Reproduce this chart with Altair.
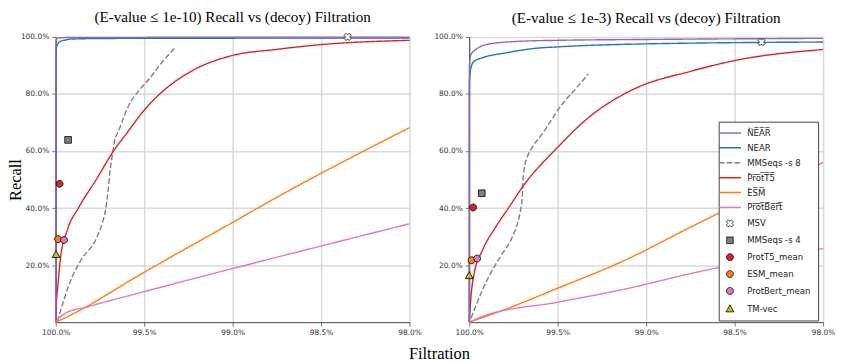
import json
import altair as alt
import pandas as pd

# ---------------- names ----------------
ARW = "\u20d6"   # combining left arrow above
OVL = "\u0305"   # combining overline


def rev(s):
    return s[0] + ARW + "".join(c + OVL for c in s[1:])


NEAR_R = rev("NEAR")
T5_R = rev("ProtT5")
ESM_R = rev("ESM")
BERT_R = rev("ProtBert")

LINE_NAMES = [NEAR_R, "NEAR", "MMSeqs -s 8", T5_R, ESM_R, BERT_R]
POINT_NAMES = ["MSV", "MMSeqs -s 4", "ProtT5_mean", "ESM_mean", "ProtBert_mean", "TM-vec"]
ALL_NAMES = LINE_NAMES + POINT_NAMES

TITLES = ["(E-value \u2264 1e-10) Recall vs (decoy) Filtration",
          "(E-value \u2264 1e-3) Recall vs (decoy) Filtration"]

X_TICKS = [100.0, 99.5, 99.0, 98.5, 98.0]
Y_TICKS = [20, 40, 60, 80, 100]

# ---------------- left panel (E-value <= 1e-10) ----------------
L_NEARR_X = [100.0, 99.999, 99.996, 99.99, 99.97, 99.9, 99.5, 99.0, 98.0]
L_NEARR_Y = [0.0, 97.5, 99.2, 99.5, 99.7, 99.8, 99.85, 99.9, 99.9]
L_NEAR_X = [100.0, 99.999, 99.995, 99.99, 99.975, 99.945, 99.92, 99.8, 99.5, 99.0, 98.0]
L_NEAR_Y = [0.0, 93.0, 96.3, 97.3, 98.4, 98.9, 99.2, 99.4, 99.5, 99.55, 99.6]
L_MM8_X = [99.991, 99.907, 99.86, 99.766, 99.738, 99.719, 99.704, 99.695, 99.682,
           99.667, 99.644, 99.616, 99.584, 99.532, 99.466, 99.41, 99.326]
L_MM8_Y = [0.2, 15.9, 21.5, 29.9, 34.5, 39.2, 46.1, 52.0, 57.8,
           63.6, 67.1, 71.7, 76.4, 81.0, 85.7, 90.3, 96.2]
L_T5_X = [100.0, 99.998, 99.99, 99.972, 99.935, 99.869, 99.775, 99.672, 99.588,
          99.5, 99.41, 99.25, 99.0, 98.755, 98.5, 98.0]
L_T5_Y = [0.0, 5.0, 11.3, 22.9, 32.2, 40.3, 49.6, 60.1, 67.1,
          74.3, 80.1, 87.4, 93.5, 95.6, 97.3, 98.8]
L_ESM_X = [100.0, 99.944, 99.5, 99.0, 98.764, 98.0]
L_ESM_Y = [0.0, 1.6, 17.5, 35.0, 43.3, 68.2]
L_BERT_X = [100.0, 99.953, 99.813, 99.5, 99.0, 98.5, 98.0]
L_BERT_Y = [0.0, 2.9, 5.5, 10.7, 18.8, 26.7, 34.5]
L_PTS_X = [98.35, 99.93, 99.978, 99.987, 99.953, 99.998]
L_PTS_Y = [100.0, 63.9, 48.5, 29.1, 28.8, 23.7]

# ---------------- right panel (E-value <= 1e-3) ----------------
R_NEARR_X = [100.0, 99.999, 99.99, 99.962, 99.888, 99.7, 99.5, 99.0, 98.0]
R_NEARR_Y = [0.0, 90.0, 93.8, 95.6, 97.5, 98.5, 98.8, 99.1, 99.5]
R_NEAR_X = [100.0, 99.999, 99.99, 99.972, 99.925, 99.794, 99.625, 99.5, 99.12, 98.0]
R_NEAR_Y = [0.0, 84.0, 89.2, 91.5, 92.7, 94.4, 96.0, 96.5, 97.4, 98.2]
R_MM8_X = [99.990, 99.925, 99.869, 99.812, 99.756, 99.728, 99.710, 99.700, 99.697,
           99.691, 99.672, 99.644, 99.588, 99.551, 99.475, 99.401, 99.326]
R_MM8_Y = [1.4, 11.3, 18.3, 24.1, 29.9, 34.5, 39.2, 43.8, 48.5,
           53.1, 57.8, 61.3, 65.9, 69.4, 76.4, 81.6, 87.1]
R_T5_X = [100.0, 99.99, 99.972, 99.925, 99.85, 99.775, 99.7, 99.5, 99.326,
          99.073, 98.745, 98.5, 98.0]
R_T5_Y = [0.0, 9.0, 17.1, 25.2, 33.4, 40.3, 47.3, 61.3, 71.7,
          81.6, 88.0, 91.7, 95.6]
R_ESM_X = [100.0, 99.83, 99.5, 99.12, 98.73, 98.0]
R_ESM_Y = [0.0, 3.7, 11.9, 21.7, 33.9, 56.0]
R_BERT_X = [100.0, 99.925, 99.5, 99.12, 98.73, 98.0]
R_BERT_Y = [0.0, 2.0, 7.0, 11.6, 17.3, 25.8]
R_PTS_X = [98.348, 99.929, 99.978, 99.987, 99.955, 100.0]
R_PTS_Y = [98.2, 45.2, 40.2, 21.7, 22.3, 16.3]

# ---------------- styles ----------------
LINE_COLORS = ["#9467bd", "#1f77b4", "#7f7f7f", "#d62728", "#ff7f0e", "#e377c2"]
POINT_COLORS = ["#ffffff", "#7f7f7f", "#d62728", "#ff7f0e", "#e377c2", "#bcbd22"]
EDGE = "#000000"
LEGEND_STROKES = LINE_COLORS + [EDGE] * 6
DASHES = [[1, 0], [1, 0], [5.5, 2.4], [1, 0], [1, 0], [1, 0]]

P_LINE = "M-1,0L1,0"
WIDE = "M-1,0M1,0"  # invisible extent so every legend symbol has the same width
P_X = (WIDE + "M0.325,-0.141L0.184,0L0.325,0.141L0.141,0.325L0,0.184L-0.141,0.325"
       "L-0.325,0.141L-0.184,0L-0.325,-0.141L-0.141,-0.325L0,-0.184L0.141,-0.325Z")
P_SQ = WIDE + "M-0.3,-0.3L0.3,-0.3L0.3,0.3L-0.3,0.3Z"
P_CI = WIDE + "M-0.31,0A0.31,0.31,0,1,1,0.31,0A0.31,0.31,0,1,1,-0.31,0Z"
P_TR = WIDE + "M0,-0.36L0.36,0.27L-0.36,0.27Z"
POINT_SHAPES = [P_X, P_SQ, P_CI, P_CI, P_CI, P_TR]
SYM_SIZE = 497.3


def line_frame(series):
    rows = []
    for name, xs, ys in series:
        for i, (x, y) in enumerate(zip(xs, ys)):
            rows.append({"series": name, "filt": x, "recall": y, "ord": i})
    return pd.DataFrame(rows)


def point_frame(xs, ys):
    return pd.DataFrame({"series": POINT_NAMES, "filt": xs, "recall": ys})


left_lines = line_frame([
    ("NEAR", L_NEAR_X, L_NEAR_Y), ("MMSeqs -s 8", L_MM8_X, L_MM8_Y),
    (T5_R, L_T5_X, L_T5_Y), (ESM_R, L_ESM_X, L_ESM_Y), (BERT_R, L_BERT_X, L_BERT_Y),
    (NEAR_R, L_NEARR_X, L_NEARR_Y)])
right_lines = line_frame([
    ("NEAR", R_NEAR_X, R_NEAR_Y), ("MMSeqs -s 8", R_MM8_X, R_MM8_Y),
    (T5_R, R_T5_X, R_T5_Y), (ESM_R, R_ESM_X, R_ESM_Y), (BERT_R, R_BERT_X, R_BERT_Y),
    (NEAR_R, R_NEARR_X, R_NEARR_Y)])
left_pts = point_frame(L_PTS_X, L_PTS_Y)
right_pts = point_frame(R_PTS_X, R_PTS_Y)

SERIF = "Liberation Serif"
SANS = "DejaVu Sans"

xscale = alt.Scale(domain=[100, 98], nice=False, zero=False)
yscale = alt.Scale(domain=[0, 100], nice=False, zero=False)

axis_common = dict(
    labelFont=SANS, labelFontSize=7.5, labelColor="#333333",
    tickSize=4, tickColor="#555555", tickWidth=0.8,
    domainColor="#333333", domainWidth=0.9,
    grid=True, gridColor="#d9d9d9", gridWidth=1.5,
    labelFlush=False, labelOverlap=False,
    titleFont=SERIF, titleFontSize=16.5, titleFontWeight="normal", titleColor="#000000",
)


def x_axis(with_title):
    kw = dict(axis_common, values=X_TICKS, labelPadding=2,
              labelExpr="format(datum.value, '.1f') + '%'")
    if with_title:
        kw.update(title="Filtration", titleX=385.5, titleY=36.2,
                  titleAlign="center", titleBaseline="alphabetic", titleAngle=0)
    else:
        kw.update(title=None)
    return alt.Axis(**kw)


def y_axis(with_title):
    kw = dict(axis_common, values=Y_TICKS, labelPadding=3,
              labelExpr="format(datum.value, '.1f') + '%'")
    if with_title:
        kw.update(title="Recall", titleX=-35, titleY=143.5, titleAngle=270,
                  titleAlign="center", titleBaseline="alphabetic")
    else:
        kw.update(title=None)
    return alt.Axis(**kw)


idx = "indexof(%s, datum.value)" % json.dumps(ALL_NAMES, ensure_ascii=False)
sym_shapes = [P_LINE] * 6 + POINT_SHAPES
sym_fill = ["transparent"] * 6 + POINT_COLORS

legend = alt.Legend(
    title=None, orient="none", legendX=251, legendY=85.3, direction="vertical",
    fillColor="#ffffff", strokeColor="#444444", padding=7, cornerRadius=0,
    labelFont=SANS, labelFontSize=8.6, labelColor="#222222",
    symbolSize=SYM_SIZE, symbolOffset=0, labelOffset=13, rowPadding=6.0,
    symbolOpacity=1,
    symbolType={"expr": "%s[%s]" % (json.dumps(sym_shapes), idx)},
    symbolFillColor={"expr": "%s[%s]" % (json.dumps(sym_fill), idx)},
    symbolStrokeColor={"expr": "%s[%s]" % (json.dumps(LEGEND_STROKES), idx)},
    symbolStrokeWidth={"expr": "%s < 6 ? 1.5 : 0.8" % idx},
    symbolDash={"expr": "%s == 2 ? [5.5, 2.4] : [1, 0]" % idx},
)


def panel(lines_df, pts_df, title, first):
    base_x = alt.X("filt:Q", scale=xscale, axis=x_axis(first))
    base_y = alt.Y("recall:Q", scale=yscale, axis=y_axis(first))
    lines = alt.Chart(lines_df).mark_line(strokeWidth=1.4, interpolate="monotone").encode(
        x=base_x, y=base_y,
        color=alt.Color("series:N",
                        scale=alt.Scale(domain=ALL_NAMES, range=LEGEND_STROKES),
                        legend=None if first else legend),
        strokeDash=alt.StrokeDash("series:N",
                                  scale=alt.Scale(domain=LINE_NAMES, range=DASHES),
                                  legend=None),
        order="ord:Q",
    )
    pts = alt.Chart(pts_df).mark_point(filled=True, size=SYM_SIZE, stroke=EDGE,
                                       strokeWidth=0.8, opacity=1).encode(
        x=alt.X("filt:Q", scale=xscale),
        y=alt.Y("recall:Q", scale=yscale),
        fill=alt.Fill("series:N", scale=alt.Scale(domain=POINT_NAMES, range=POINT_COLORS),
                      legend=None),
        shape=alt.Shape("series:N", scale=alt.Scale(domain=POINT_NAMES, range=POINT_SHAPES),
                        legend=None),
    )
    return alt.layer(lines, pts).properties(
        width=356, height=287,
        title=alt.Title(title, font=SERIF, fontSize=15.2, fontWeight="normal",
                        color="#000000", frame="group", anchor="middle", offset=7),
    )


left = panel(left_lines, left_pts, TITLES[0], True)
right = panel(right_lines, right_pts, TITLES[1], False)

chart = alt.hconcat(left, right, spacing=60, bounds="flush").resolve_scale(
    color="independent").resolve_legend(color="independent").properties(
    padding=0, background="#ffffff").configure_view(stroke=None)

chart.save("out.html", embed_options={"renderer": "svg", "actions": False})
